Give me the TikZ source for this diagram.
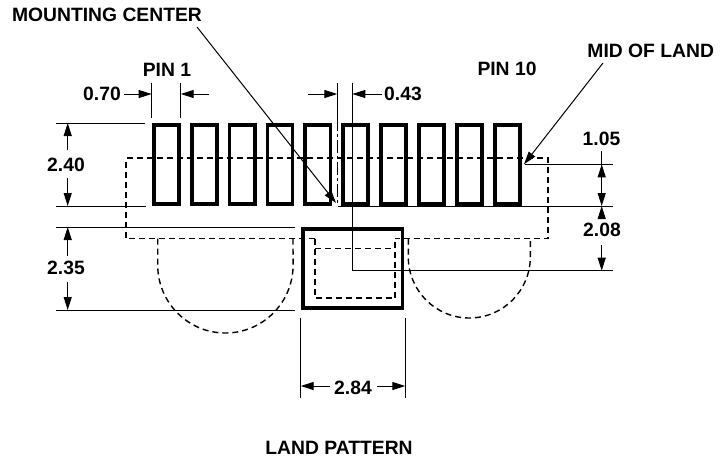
\documentclass[tikz,border=0pt]{standalone}
\usepackage{fontspec}
\setmainfont{Liberation Sans}
\usetikzlibrary{arrows.meta}
\tikzset{dimtext/.style = {inner sep = 0, font = \fontsize{19.3}{21}\selectfont\bfseries}}
\tikzset{thin line/.style = {line width = 1}}
\tikzset{dim/.style = {line width = 1, -{Triangle[length = 13, width = 8]}}}
\tikzset{land/.style = {line width = 3.8}}
\tikzset{hidden/.style = {line width = 1.4, dash pattern = on 6 off 4}}

\begin{document}
\begin{tikzpicture}[x = 1pt, y = -1pt]
    \useasboundingbox (0, 0) rectangle (726, 459);

    % land outlines
    \foreach \n in {0, ..., 9} {
      \draw [land] (153.7 + 37.9 * \n, 124.6) rectangle (178.8 + 37.9 * \n, 204.2);
    }
    \draw [land] (303, 229.2) rectangle (402.4, 308.2);

    % hidden outline of the part
    \draw [hidden] (315, 238.5) -- (126, 238.5) -- (126, 158) -- (548, 158) -- (548, 238.5) -- (395, 238.5);
    \draw [hidden] (315, 238.5) -- (315, 298) -- (395, 298) -- (395, 238.5);
    \draw [hidden] (315, 248.5) -- (395, 248.5);
    \draw [hidden] (157.7, 238.5) -- (157.7, 265) arc (180 : 0 : 67.7 and 68) -- (293, 238.5);
    \draw [hidden] (408.3, 238.5) -- (408.3, 257) arc (180 : 0 : 61 and 61) -- (530.3, 238.5);

    % labels
    \node [dimtext] (mounting) at (107, 15) {MOUNTING CENTER};
    \node [dimtext] (midland) at (650.7, 51) {MID OF LAND};
    \node [dimtext] (pinone) at (167, 70) {PIN 1};
    \node [dimtext] (pinten) at (507, 69) {PIN 10};
    \node [dimtext] (wone) at (102, 94) {0.70};
    \node [dimtext] (wtwo) at (403, 94) {0.43};
    \node [dimtext] (hone) at (66, 165) {2.40};
    \node [dimtext] (htwo) at (66, 268) {2.35};
    \node [dimtext] (hthree) at (601.5, 139) {1.05};
    \node [dimtext] (hfour) at (602, 230) {2.08};
    \node [dimtext] (wthree) at (353, 388) {2.84};
    \node [dimtext] (title) at (339, 448) {LAND PATTERN};

    % leaders
    \coordinate (mountingtail) at (197, 27);
    \coordinate (mountingtip) at (336, 203);
    \coordinate (midtail) at (603, 63);
    \coordinate (midtip) at (524, 164.3);
    \draw [dim] (mountingtail) -- (mountingtip);
    \draw [dim] (midtail) -- (midtip);

    % extension lines
    \draw [thin line] (151.7, 83) -- (151.7, 118);
    \draw [thin line] (180.7, 83) -- (180.7, 118);
    \draw [thin line] (337.3, 83) -- (337.3, 118);
    \draw [line width = 0.8, dash pattern = on 13 off 3 on 3 off 3] (337.3, 118) -- (337.3, 206);
    \draw [thin line] (352.3, 83) -- (352.3, 270.7) -- (612.7, 270.7);
    \draw [thin line] (56, 123) -- (145, 123);
    \draw [thin line] (56, 206) -- (146, 206);
    \draw [thin line] (338, 206) -- (612.7, 206);
    \draw [thin line] (525, 164.3) -- (612.7, 164.3);
    \draw [thin line] (56, 227) -- (295, 227);
    \draw [thin line] (56, 310) -- (295, 310);
    \draw [thin line] (300.7, 318) -- (300.7, 398);
    \draw [thin line] (405.3, 318) -- (405.3, 398);

    % dimension arrows
    \draw [dim] (124, 94) -- (151.7, 94);
    \draw [dim] (209, 94) -- (180.7, 94);
    \draw [dim] (308, 94) -- (337.3, 94);
    \draw [dim] (382, 94) -- (352.3, 94);
    \draw [dim] (67.7, 150) -- (67.7, 123);
    \draw [dim] (67.7, 178) -- (67.7, 206);
    \draw [dim] (67.7, 256) -- (67.7, 227);
    \draw [dim] (67.7, 282) -- (67.7, 310);
    \draw [dim] (601.7, 185) -- (601.7, 164.3);
    \draw [dim] (601.7, 151) -- (601.7, 206);
    \draw [dim] (601.7, 218) -- (601.7, 206);
    \draw [dim] (601.7, 245) -- (601.7, 270.7);
    \draw [dim] (330, 386) -- (300.7, 386);
    \draw [dim] (377, 386) -- (405.3, 386);
  \end{tikzpicture}
\end{document}
